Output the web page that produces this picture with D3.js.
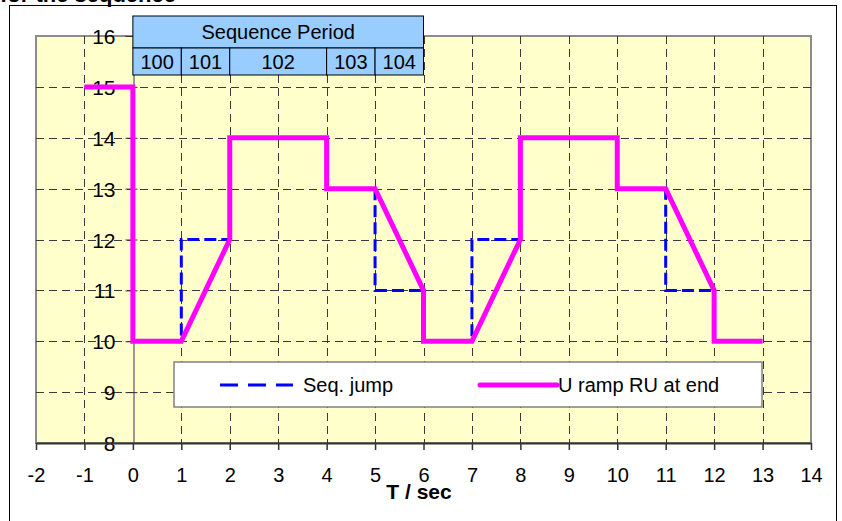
<!DOCTYPE html>
<html>
<head>
<meta charset="utf-8">
<script src="https://cdn.jsdelivr.net/npm/d3@7/dist/d3.min.js"></script>
<style>
  body { margin: 0; background: #fff; }
  text { font-family: "Liberation Sans", Arial, sans-serif; fill: #000; }
</style>
</head>
<body>
<div id="chart"></div>
<script>
// data
var rampT = [-1, 0, 0, 1, 2, 2, 4, 4, 5, 6, 6, 7, 8, 8, 10, 10, 11, 12, 12, 13];
var rampU = [15, 15, 10, 10, 12, 14, 14, 13, 13, 11, 10, 10, 12, 14, 14, 13, 13, 11, 10, 10];
var jumpT = [-1, 0, 0, 1, 1, 2, 2, 4, 4, 5, 5, 6, 6, 7, 7, 8, 8, 10, 10, 11, 11, 12, 12, 13];
var jumpU = [15, 15, 10, 10, 12, 12, 14, 14, 13, 13, 11, 11, 10, 10, 12, 12, 14, 14, 13, 13, 11, 11, 10, 10];
var xTicks = [-2, -1, 0, 1, 2, 3, 4, 5, 6, 7, 8, 9, 10, 11, 12, 13, 14];
var yTicks = [8, 9, 10, 11, 12, 13, 14, 15, 16];
var periodNames = ['100', '101', '102', '103', '104'];
var periodBounds = [0, 1, 2, 4, 5, 6];
var seriesNames = ['Seq. jump', 'U ramp RU at end'];

var W = 842, H = 521;
var svg = d3.select('#chart').append('svg')
  .attr('width', W).attr('height', H);

svg.append('rect').attr('width', W).attr('height', H).attr('fill', '#fff');

// title, cut off by the top edge
svg.append('text')
  .attr('x', 176).attr('y', 2)
  .attr('text-anchor', 'end')
  .style('font-size', '22px').style('font-weight', 'bold')
  .text('for the sequence');

// outer chart frame
svg.append('rect')
  .attr('x', 9.5).attr('y', 5.5)
  .attr('width', 827).attr('height', 540)
  .attr('fill', 'none').attr('stroke', '#000').attr('stroke-width', 1);

var x = d3.scaleLinear().domain([-2, 14]).range([36, 811]);
var y = d3.scaleLinear().domain([8, 16]).range([443, 36]);

// plot area
svg.append('rect')
  .attr('x', x(-2)).attr('y', y(16))
  .attr('width', x(14) - x(-2)).attr('height', y(8) - y(16))
  .attr('fill', '#FFFFCC').attr('stroke', '#8c8c8c').attr('stroke-width', 2);

// grid
var grid = svg.append('g').attr('stroke', '#3a3a3a').attr('stroke-width', 1)
  .attr('stroke-dasharray', '8,5');
grid.selectAll('.vg').data(xTicks.filter(function (d) { return d > -2 && d < 14 && d !== 0; }))
  .enter().append('line')
  .attr('x1', function (d) { return Math.round(x(d)) + 0.5; })
  .attr('x2', function (d) { return Math.round(x(d)) + 0.5; })
  .attr('y1', y(16)).attr('y2', y(8));
grid.selectAll('.hg').data(yTicks.filter(function (d) { return d > 8 && d < 16; }))
  .enter().append('line')
  .attr('y1', function (d) { return Math.round(y(d)) + 0.5; })
  .attr('y2', function (d) { return Math.round(y(d)) + 0.5; })
  .attr('x1', x(-2)).attr('x2', x(14));

var plain = function (d) { return String(d); };

// y axis at T = 0
var yAxis = svg.append('g')
  .attr('transform', 'translate(' + (Math.round(x(0)) + 0.5) + ',0)')
  .call(d3.axisLeft(y).tickValues(yTicks).tickFormat(plain)
    .tickSize(8).tickSizeOuter(0).tickPadding(10));
yAxis.select('.domain').attr('stroke', '#777').attr('stroke-width', 1.5);
yAxis.selectAll('.tick line').attr('stroke', '#333').attr('x2', 4).attr('x1', -8);
yAxis.selectAll('.tick text')
  .style('font-size', '21px').style('font-family', '"Liberation Sans", Arial, sans-serif')
  .attr('dy', '0.36em').attr('fill', '#000');

// x axis at U = 8
var xAxis = svg.append('g')
  .attr('transform', 'translate(0,' + y(8) + ')')
  .call(d3.axisBottom(x).tickValues(xTicks).tickFormat(plain)
    .tickSize(7).tickSizeOuter(0).tickPadding(18));
xAxis.select('.domain').attr('stroke', '#333').attr('stroke-width', 2);
xAxis.selectAll('.tick line').attr('stroke', '#333').attr('stroke-width', 1.5);
xAxis.selectAll('.tick text')
  .style('font-size', '20px').style('font-family', '"Liberation Sans", Arial, sans-serif')
  .attr('fill', '#000');

svg.append('text')
  .attr('x', 419).attr('y', 499)
  .attr('text-anchor', 'middle')
  .style('font-size', '21px').style('font-weight', 'bold')
  .text('T / sec');

// series
var line = d3.line()
  .x(function (d) { return x(d[0]); })
  .y(function (d) { return y(d[1]); });

svg.append('path')
  .datum(d3.zip(jumpT, jumpU))
  .attr('d', line)
  .attr('fill', 'none').attr('stroke', '#0000FF').attr('stroke-width', 3)
  .attr('stroke-dasharray', '12,5');

svg.append('path')
  .datum(d3.zip(rampT, rampU))
  .attr('d', line)
  .attr('fill', 'none').attr('stroke', '#FF00FF').attr('stroke-width', 5)
  .attr('stroke-linejoin', 'miter');

// sequence period table
var tabTop = 16, rowH = 32, row2H = 27;
var tab = svg.append('g');
tab.append('rect')
  .attr('x', x(periodBounds[0])).attr('y', tabTop)
  .attr('width', x(periodBounds[periodBounds.length - 1]) - x(periodBounds[0]))
  .attr('height', rowH)
  .attr('fill', '#99CCFF').attr('stroke', '#000').attr('stroke-width', 1);
tab.append('text')
  .attr('x', (x(periodBounds[0]) + x(periodBounds[periodBounds.length - 1])) / 2)
  .attr('y', tabTop + 23)
  .attr('text-anchor', 'middle')
  .style('font-size', '20px')
  .text('Sequence Period');
var cells = tab.selectAll('.cell').data(periodNames).enter().append('g');
cells.append('rect')
  .attr('x', function (d, i) { return x(periodBounds[i]); })
  .attr('y', tabTop + rowH)
  .attr('width', function (d, i) { return x(periodBounds[i + 1]) - x(periodBounds[i]); })
  .attr('height', row2H)
  .attr('fill', '#99CCFF').attr('stroke', '#000').attr('stroke-width', 1);
cells.append('text')
  .attr('x', function (d, i) { return (x(periodBounds[i]) + x(periodBounds[i + 1])) / 2; })
  .attr('y', tabTop + rowH + 21)
  .attr('text-anchor', 'middle')
  .style('font-size', '20px')
  .text(function (d) { return d; });

// legend
var lg = svg.append('g').attr('transform', 'translate(174,362)');
lg.append('rect')
  .attr('width', 588).attr('height', 45)
  .attr('fill', '#fff').attr('stroke', '#808080').attr('stroke-width', 1.5);
lg.append('line')
  .attr('x1', 46).attr('x2', 119).attr('y1', 23).attr('y2', 23)
  .attr('stroke', '#0000FF').attr('stroke-width', 3).attr('stroke-dasharray', '18,10');
lg.append('text').attr('x', 129).attr('y', 30).style('font-size', '20px').text(seriesNames[0]);
lg.append('line')
  .attr('x1', 306).attr('x2', 383).attr('y1', 23).attr('y2', 23)
  .attr('stroke', '#FF00FF').attr('stroke-width', 5).attr('stroke-linecap', 'round');
lg.append('text').attr('x', 384).attr('y', 30).style('font-size', '20px').text(seriesNames[1]);
</script>
</body>
</html>
